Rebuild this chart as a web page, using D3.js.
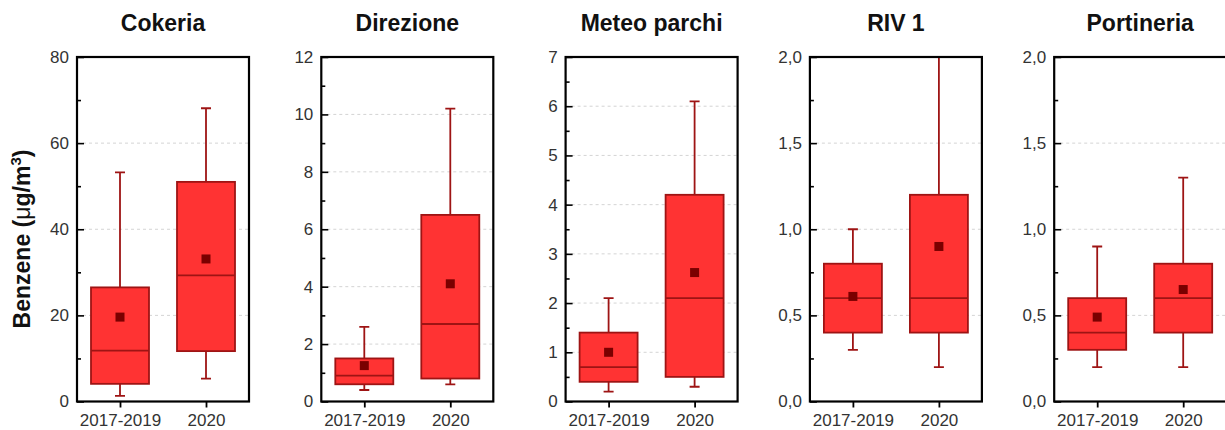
<!DOCTYPE html>
<html>
<head>
<meta charset="utf-8">
<script src="https://cdn.jsdelivr.net/npm/d3@7"></script>
<style>
  html, body { margin: 0; padding: 0; background: #fff; }
  svg { display: block; }
  text { font-family: "Liberation Sans", Arial, sans-serif; }
</style>
</head>
<body>
<svg id="chart" width="1225" height="430"></svg>
<script>
// Benzene concentrations per monitoring station, 2017-2019 vs 2020
const stations = ["Cokeria", "Direzione", "Meteo parchi", "RIV 1", "Portineria"];
const periods = ["2017-2019", "2020"];

// y-axis upper limit and major tick values for each station panel
const yMax = [80, 12, 7, 2, 2];
const yTicks = [
  [0, 20, 40, 60, 80],
  [0, 2, 4, 6, 8, 10, 12],
  [0, 1, 2, 3, 4, 5, 6, 7],
  [0, 0.5, 1, 1.5, 2],
  [0, 0.5, 1, 1.5, 2]
];
const decimals = [0, 0, 0, 1, 1];

// box statistics, one [2017-2019, 2020] pair per station
const whiskerLow  = [[1.3, 5.3],  [0.4, 0.6],  [0.2, 0.3],  [0.3, 0.2],  [0.2, 0.2]];
const q1          = [[4.1, 11.7], [0.6, 0.8],  [0.4, 0.5],  [0.4, 0.4],  [0.3, 0.4]];
const median      = [[11.8, 29.3],[0.9, 2.7],  [0.7, 2.1],  [0.6, 0.6],  [0.4, 0.6]];
const q3          = [[26.5, 51.0],[1.5, 6.5],  [1.4, 4.2],  [0.8, 1.2],  [0.6, 0.8]];
const whiskerHigh = [[53.2, 68.1],[2.6, 10.2], [2.1, 6.1],  [1.0, 2.0],  [0.9, 1.3]];
const mean        = [[19.6, 33.1],[1.25, 4.1], [1.0, 2.62], [0.61, 0.9], [0.49, 0.65]];

const svg = d3.select("#chart");
const panelW = 172, plotTop = 57, plotBottom = 401.5, panelStep = 244.3, firstLeft = 77;
const boxW = 58, capW = 10, meanSize = 9;
const fillRed = "#ff3333", strokeRed = "#9e1414", meanRed = "#7a0000";

const commaFmt = d3.formatLocale({ decimal: ",", thousands: ".", grouping: [3], currency: ["", "€"] });

stations.forEach((name, i) => {
  const left = firstLeft + i * panelStep;
  const g = svg.append("g").attr("transform", `translate(${left},0)`);

  const x = d3.scalePoint().domain(periods).range([0, panelW]).padding(0.5);
  const y = d3.scaleLinear().domain([0, yMax[i]]).range([plotBottom, plotTop]);

  const ticks = yTicks[i];
  const minor = ticks.slice(1).map((t, k) => (t + ticks[k]) / 2);
  const fmt = commaFmt.format("." + decimals[i] + "f");

  // clip to the plot frame
  const clipId = "clip" + i;
  g.append("clipPath").attr("id", clipId)
    .append("rect").attr("x", 0).attr("y", plotTop).attr("width", panelW).attr("height", plotBottom - plotTop);

  // dashed horizontal grid lines
  g.append("g").selectAll("line")
    .data(ticks.filter(t => t > 0 && t < yMax[i]))
    .join("line")
    .attr("x1", 0).attr("x2", panelW)
    .attr("y1", d => y(d)).attr("y2", d => y(d))
    .attr("stroke", "#d4d4d4").attr("stroke-width", 1).attr("stroke-dasharray", "3,3");

  const boxes = periods.map((p, k) => ({
    p, lo: whiskerLow[i][k], q1: q1[i][k], med: median[i][k],
    q3: q3[i][k], hi: whiskerHigh[i][k], mean: mean[i][k]
  }));

  const marks = g.append("g").attr("clip-path", `url(#${clipId})`);
  const b = marks.selectAll("g.box").data(boxes).join("g").attr("class", "box");

  // whiskers and caps
  b.append("line")
    .attr("x1", d => x(d.p)).attr("x2", d => x(d.p))
    .attr("y1", d => y(d.hi)).attr("y2", d => y(d.lo))
    .attr("stroke", strokeRed).attr("stroke-width", 1.8);
  b.selectAll("line.cap").data(d => [[d.p, d.lo], [d.p, d.hi]]).join("line")
    .attr("class", "cap")
    .attr("x1", d => x(d[0]) - capW / 2).attr("x2", d => x(d[0]) + capW / 2)
    .attr("y1", d => y(d[1])).attr("y2", d => y(d[1]))
    .attr("stroke", strokeRed).attr("stroke-width", 1.8);

  // interquartile box
  b.append("rect")
    .attr("x", d => x(d.p) - boxW / 2).attr("width", boxW)
    .attr("y", d => y(d.q3)).attr("height", d => y(d.q1) - y(d.q3))
    .attr("fill", fillRed).attr("stroke", strokeRed).attr("stroke-width", 1.8);

  // median line
  b.append("line")
    .attr("x1", d => x(d.p) - boxW / 2).attr("x2", d => x(d.p) + boxW / 2)
    .attr("y1", d => y(d.med)).attr("y2", d => y(d.med))
    .attr("stroke", strokeRed).attr("stroke-width", 1.8);

  // mean marker
  b.append("rect")
    .attr("x", d => x(d.p) - meanSize / 2).attr("y", d => y(d.mean) - meanSize / 2)
    .attr("width", meanSize).attr("height", meanSize)
    .attr("fill", meanRed);

  // y axis: major ticks with labels, minor ticks, both pointing inward
  const yAxis = g.append("g")
    .call(d3.axisLeft(y).tickValues(ticks).tickFormat(fmt).tickSizeInner(-7).tickSizeOuter(0).tickPadding(8));
  yAxis.select(".domain").remove();
  yAxis.selectAll(".tick line").attr("stroke", "#000").attr("stroke-width", 1.6);
  yAxis.selectAll("text").style("font-size", "17px").attr("fill", "#333");

  const yMinor = g.append("g")
    .call(d3.axisLeft(y).tickValues(minor).tickFormat("").tickSizeInner(-4).tickSizeOuter(0));
  yMinor.select(".domain").remove();
  yMinor.selectAll(".tick line").attr("stroke", "#000").attr("stroke-width", 1.6);

  // x axis: category ticks pointing outward
  const xAxis = g.append("g").attr("transform", `translate(0,${plotBottom})`)
    .call(d3.axisBottom(x).tickSizeInner(6).tickSizeOuter(0).tickPadding(6));
  xAxis.select(".domain").remove();
  xAxis.selectAll(".tick line").attr("stroke", "#000").attr("stroke-width", 1.8);
  xAxis.selectAll("text").style("font-size", "17px").attr("fill", "#333");

  // plot frame
  g.append("rect")
    .attr("x", 0).attr("y", plotTop).attr("width", panelW).attr("height", plotBottom - plotTop)
    .attr("fill", "none").attr("stroke", "#000").attr("stroke-width", 2.2);

  // station title
  g.append("text")
    .attr("x", panelW / 2).attr("y", 31)
    .attr("text-anchor", "middle")
    .style("font-size", "23px").attr("font-weight", "bold").attr("fill", "#111")
    .text(name);
});

// shared y-axis title
const yTitle = svg.append("text")
  .attr("transform", "translate(30,239) rotate(-90)")
  .attr("text-anchor", "middle")
  .style("font-size", "23px").attr("font-weight", "bold").attr("fill", "#111");
yTitle.append("tspan").text("Benzene (");
yTitle.append("tspan").attr("font-weight", "normal").text("μ");
yTitle.append("tspan").text("g/m");
yTitle.append("tspan").style("font-size", "15px").attr("dy", -9).text("3");
yTitle.append("tspan").attr("dy", 9).text(")");
</script>
</body>
</html>
